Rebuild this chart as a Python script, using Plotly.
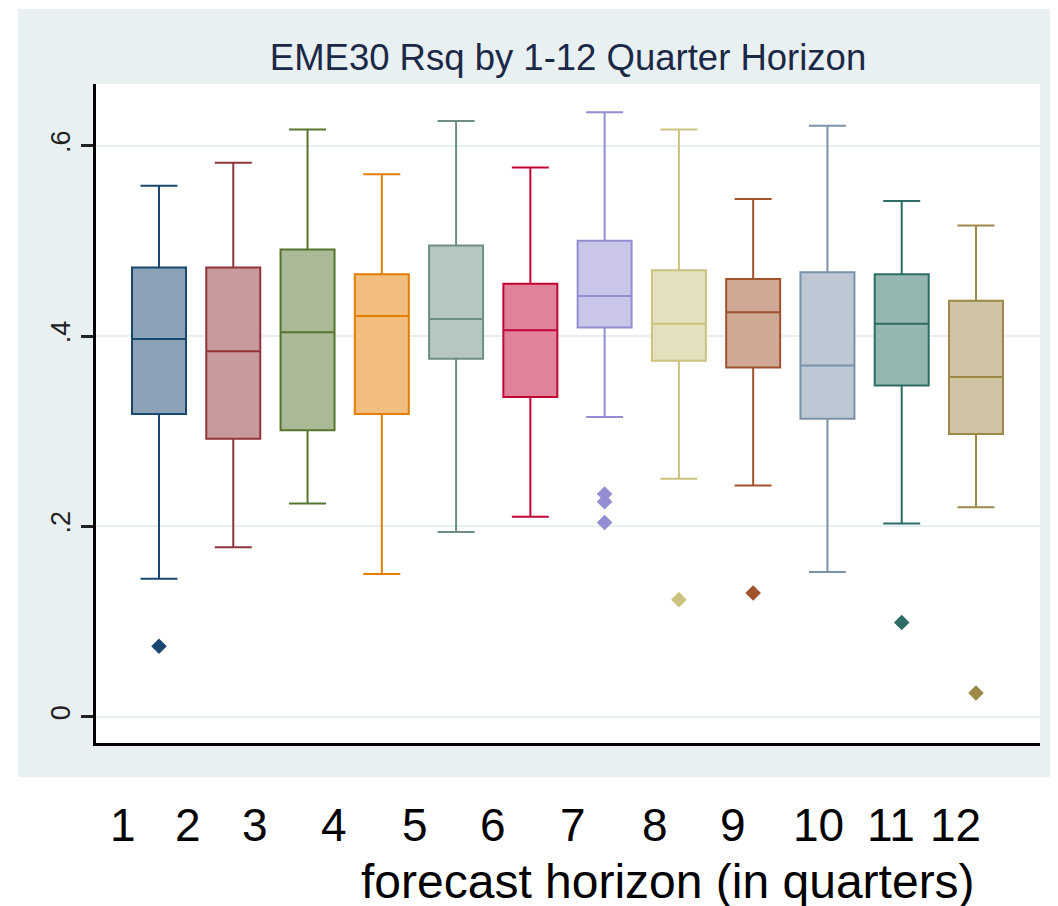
import plotly.graph_objects as go

# ---------------- data ----------------
horizons = [1, 2, 3, 4, 5, 6, 7, 8, 9, 10, 11, 12]
q1_vals = [0.318, 0.292, 0.301, 0.318, 0.376, 0.336, 0.409, 0.374, 0.367, 0.313, 0.348, 0.297]
median_vals = [0.397, 0.384, 0.404, 0.421, 0.418, 0.406, 0.442, 0.413, 0.425, 0.369, 0.413, 0.357]
q3_vals = [0.472, 0.472, 0.491, 0.465, 0.495, 0.455, 0.500, 0.469, 0.460, 0.467, 0.465, 0.437]
lower_whisker = [0.145, 0.178, 0.224, 0.150, 0.194, 0.210, 0.315, 0.250, 0.243, 0.152, 0.203, 0.220]
upper_whisker = [0.558, 0.582, 0.617, 0.570, 0.626, 0.577, 0.635, 0.617, 0.544, 0.621, 0.542, 0.516]
outlier_x = [1, 7, 7, 7, 8, 9, 11, 12]
outlier_y = [0.074, 0.234, 0.226, 0.204, 0.123, 0.130, 0.099, 0.025]
x_tick_labels = ["1", "2", "3", "4", "5", "6", "7", "8", "9", "10", "11", "12"]
y_tick_vals = [0, 0.2, 0.4, 0.6]
y_tick_text = ["0", ".2", ".4", ".6"]
title_text = "EME30 Rsq by 1-12 Quarter Horizon"
x_title_text = "forecast horizon (in quarters)"

# ---------------- styling ----------------
colors = ["#1a476f", "#90353b", "#55752f", "#e37e00", "#6e8e84", "#c10534",
          "#938dd2", "#cac27e", "#a0522d", "#7b92a8", "#2d6d66", "#9c8847"]


def lighten(hex_color, f=0.5):
    h = hex_color.lstrip("#")
    r, g, b = (int(h[i:i + 2], 16) for i in (0, 2, 4))
    r, g, b = (round(c + (255 - c) * f) for c in (r, g, b))
    return f"rgb({r},{g},{b})"


# the page body adds an 8px offset; lay out in window pixels and subtract it
OFF = 8
W, H = 1058 - OFF, 906 - OFF
ML, MT = 96 - OFF, 84 - OFF
PLOT_R, PLOT_B = 1040 - OFF, 743 - OFF
MR, MB = W - PLOT_R, H - PLOT_B
PW, PH = PLOT_R - ML, PLOT_B - MT


def px_to_paper_x(px):
    return (px - OFF - ML) / PW


def px_to_paper_y(py):
    return (PLOT_B - (py - OFF)) / PH


FONT = "Arial, 'Liberation Sans', sans-serif"

fig = go.Figure()

for i, h in enumerate(horizons):
    fig.add_trace(go.Box(
        x=[h],
        q1=[q1_vals[i]], median=[median_vals[i]], q3=[q3_vals[i]],
        lowerfence=[lower_whisker[i]], upperfence=[upper_whisker[i]],
        width=0.727, whiskerwidth=0.685,
        fillcolor=lighten(colors[i]),
        line=dict(color=colors[i], width=2),
        boxpoints=False, showlegend=False, hoverinfo="skip",
    ))

fig.add_trace(go.Scatter(
    x=outlier_x, y=outlier_y, mode="markers",
    marker=dict(symbol="diamond", size=12,
                color=[colors[horizons.index(v)] for v in outlier_x],
                line=dict(width=0)),
    showlegend=False, hoverinfo="skip",
))

# background panel (light blue-grey) and white plot region
shapes = [
    dict(type="rect", xref="paper", yref="paper", layer="below",
         x0=px_to_paper_x(18), x1=px_to_paper_x(1070),
         y0=px_to_paper_y(777), y1=px_to_paper_y(9),
         fillcolor="#e8f0f2", line=dict(width=0)),
    dict(type="rect", xref="paper", yref="paper", layer="below",
         x0=0, x1=1, y0=0, y1=1, fillcolor="white", line=dict(width=0)),
]

# category labels placed below the panel, as in the reference
label_px = [123, 188, 255, 334, 415, 493, 573, 655, 733, 818, 891, 955]
annotations = []
for lbl, px in zip(x_tick_labels, label_px):
    annotations.append(dict(
        text=lbl, x=px_to_paper_x(px), y=px_to_paper_y(825),
        xref="paper", yref="paper", xanchor="center", yanchor="middle",
        showarrow=False, font=dict(family=FONT, size=46, color="black")))
annotations.append(dict(
    text=x_title_text, x=px_to_paper_x(668), y=px_to_paper_y(881),
    xref="paper", yref="paper", xanchor="center", yanchor="middle",
    showarrow=False, font=dict(family=FONT, size=48, color="black")))

fig.update_layout(
    width=W, height=H,
    margin=dict(l=ML, r=MR, t=MT, b=MB, pad=0),
    paper_bgcolor="white", plot_bgcolor="white",
    boxmode="overlay",
    title=dict(text=title_text, x=0.5, xref="paper", xanchor="center",
               y=1 - (57 - OFF) / H, yref="container", yanchor="middle",
               font=dict(family=FONT, size=36.5, color="#1c2946")),
    shapes=shapes, annotations=annotations,
    xaxis=dict(range=[0.1517, 12.862], showticklabels=False, ticks="",
               showgrid=False, zeroline=False, showline=True,
               linecolor="black", linewidth=2.5, fixedrange=True),
    yaxis=dict(range=[-0.0276, 0.6648], tickvals=y_tick_vals, ticktext=y_tick_text,
               tickangle=-90, ticks="outside", ticklen=12, tickwidth=2.5,
               tickcolor="#222222",
               tickfont=dict(family=FONT, size=27, color="#222222"),
               showgrid=True, gridcolor="#e6eff1", gridwidth=2,
               zeroline=False, showline=True, linecolor="black", linewidth=2.5,
               fixedrange=True),
)

fig.write_html("out.html")
